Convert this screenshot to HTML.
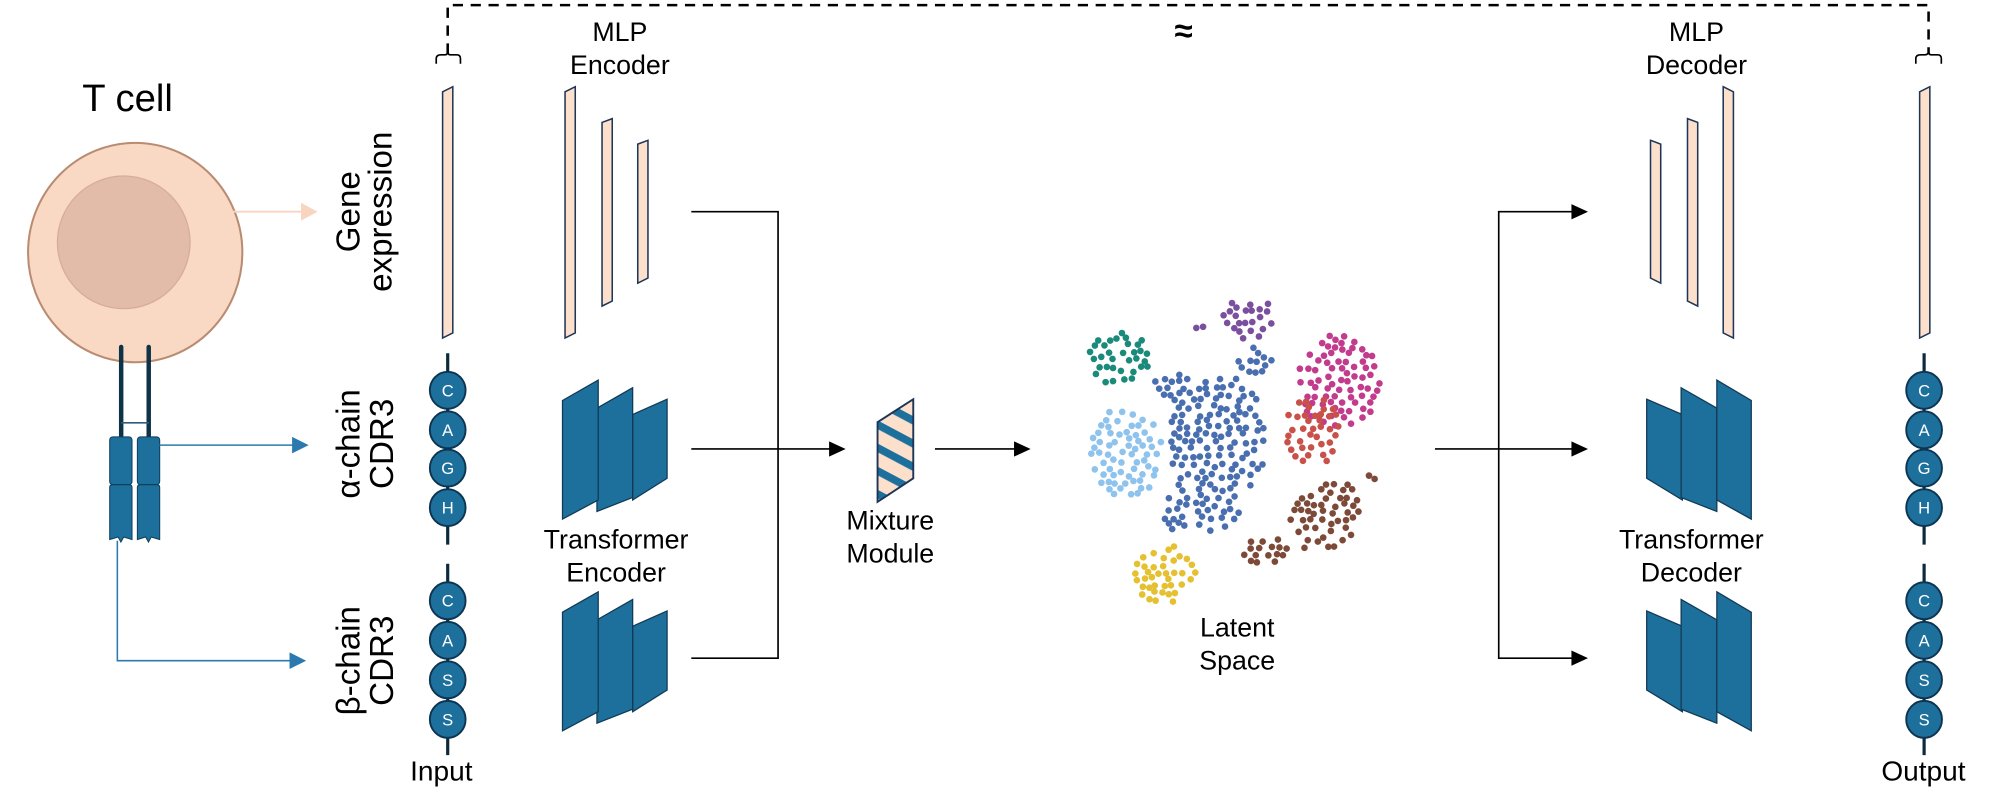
<!DOCTYPE html>
<html><head><meta charset="utf-8"><style>
html,body{margin:0;padding:0;background:#fff;}
svg{display:block;}
text{font-family:"Liberation Sans",Arial,sans-serif;fill:#000;}
.c text{fill:#fff;font-size:13px;text-anchor:middle;}
</style></head><body>
<svg id="s" width="2000" height="801" viewBox="0 0 1568 628" preserveAspectRatio="none" xmlns="http://www.w3.org/2000/svg">
<defs>
<marker id="ab" markerWidth="10" markerHeight="10" refX="10" refY="5" orient="auto" markerUnits="userSpaceOnUse"><path d="M0,0 L14,5 L0,10 z" fill="#000" transform="scale(0.72,1)"/></marker>
<pattern id="str" patternUnits="userSpaceOnUse" width="16" height="16" patternTransform="rotate(28)"><rect width="16" height="16" fill="#fde0cc"/><rect y="0" width="16" height="6" fill="#1d6f9c"/></pattern>
</defs>
<!-- dashed top -->
<path d="M351,42 V4 H1512 V42" fill="none" stroke="#000" stroke-width="2" stroke-dasharray="8,6"/>
<path d="M342,50 V46 Q342,43 346,43 H349 Q351,43 351,40 Q351,43 353,43 H358 Q361,43 361,46 V50" fill="none" stroke="#000" stroke-width="1.3"/>
<path d="M1502,50 V46 Q1502,43 1506,43 H1509 Q1512,43 1512,40 Q1512,43 1514,43 H1519 Q1522,43 1522,46 V50" fill="none" stroke="#000" stroke-width="1.3"/>
<text x="928" y="33" font-size="26" font-weight="bold" text-anchor="middle">≈</text>

<!-- T cell -->
<text x="100" y="87" font-size="30" text-anchor="middle">T cell</text>
<ellipse cx="106" cy="198" rx="84" ry="86" fill="#f9d9c4" stroke="#b98c72" stroke-width="1.6"/>
<ellipse cx="97" cy="190" rx="52" ry="52" fill="#e2bba9" stroke="#d6ad98" stroke-width="1"/>
<line x1="182" y1="166" x2="238" y2="166" stroke="#f9d5c0" stroke-width="1.5"/>
<path d="M236,159 L249,166 L236,173 z" fill="#f9d5c0"/>
<line x1="95" y1="272" x2="95" y2="343" stroke="#0f3346" stroke-width="3.5" stroke-linecap="round"/>
<line x1="116.6" y1="272" x2="116.6" y2="343" stroke="#0f3346" stroke-width="3.5" stroke-linecap="round"/>
<line x1="95" y1="331.5" x2="116.6" y2="331.5" stroke="#2a5f7c" stroke-width="1.2"/>
<g fill="#1d6f9c" stroke="#0f3f5c" stroke-width="0.8">
<rect x="86" y="342.5" width="17.5" height="37.5" rx="2.5"/>
<rect x="107.7" y="342.5" width="17.5" height="37.5" rx="2.5"/>
<path d="M86,382 Q86,380 88.5,380 H101 Q103.5,380 103.5,382 V423 L97,421 L94.8,425 L92.6,421 L86,423 z"/>
<path d="M107.7,382 Q107.7,380 110.2,380 H122.7 Q125.2,380 125.2,382 V423 L118.5,421 L116.4,425 L114.2,421 L107.7,423 z"/>
</g>
<line x1="125" y1="349" x2="232" y2="349" stroke="#2a7ab0" stroke-width="1.2"/>
<path d="M229,342.5 L242,349 L229,355.5 z" fill="#2a7ab0"/>
<path d="M92,424 V518 H230" fill="none" stroke="#2a7ab0" stroke-width="1.2"/>
<path d="M227,511.5 L240,518 L227,524.5 z" fill="#2a7ab0"/>

<!-- rotated labels -->
<g font-size="26" text-anchor="middle">
<text transform="translate(282,166) rotate(-90)">Gene</text>
<text transform="translate(307,166) rotate(-90)">expression</text>
<text transform="translate(282,348) rotate(-90)">α-chain</text>
<text transform="translate(308,348) rotate(-90)">CDR3</text>
<text transform="translate(282,518) rotate(-90)">β-chain</text>
<text transform="translate(308,518) rotate(-90)">CDR3</text>
</g>

<!-- bars -->
<g fill="#fde0cc" stroke="#1d3557" stroke-width="1.2">
<polygon points="347,72 355,68 355,261 347,265"/>
<polygon points="443,72 451,68 451,261 443,265"/>
<polygon points="472,96 480,93 480,236 472,240"/>
<polygon points="500,113 508,110 508,218 500,222"/>
<polygon points="1294,110 1302,113 1302,222 1294,218"/>
<polygon points="1323,93 1331,96 1331,240 1323,236"/>
<polygon points="1351,68 1359,72 1359,265 1351,261"/>
<polygon points="1505,72 1513,68 1513,261 1505,265"/>
</g>

<!-- chains -->
<g id="chains" stroke="#0d2a3c">
<line x1="351" y1="277" x2="351" y2="427" stroke-width="2.5"/>
<line x1="351" y1="442" x2="351" y2="592" stroke-width="2.5"/>
<line x1="1508.5" y1="277" x2="1508.5" y2="427" stroke-width="2.5"/>
<line x1="1508.5" y1="442" x2="1508.5" y2="592" stroke-width="2.5"/>
</g>
<g class="c" id="circ"></g>

<text x="346" y="612" font-size="22" text-anchor="middle">Input</text>
<text x="1508" y="612" font-size="22" text-anchor="middle">Output</text>

<g font-size="21" text-anchor="middle">
<text x="486" y="32">MLP</text><text x="486" y="58">Encoder</text>
<text x="1330" y="32">MLP</text><text x="1330" y="58">Decoder</text>
<text x="483" y="430">Transformer</text><text x="483" y="456">Encoder</text>
<text x="1326" y="430">Transformer</text><text x="1326" y="456">Decoder</text>
<text x="698" y="415">Mixture</text><text x="698" y="441">Module</text>
<text x="970" y="499">Latent</text><text x="970" y="525">Space</text>
</g>

<!-- transformer panels -->
<g fill="#1d6f9c" stroke="#123a55" stroke-width="1" id="tp">
<polygon points="496,325 523,313 523,375 496,392"/>
<polygon points="468,320 496,304 496,390 468,401"/>
<polygon points="441,314 469,298 469,392 441,407"/>
<g transform="translate(0,166)">
<polygon points="496,325 523,313 523,375 496,392"/>
<polygon points="468,320 496,304 496,390 468,401"/>
<polygon points="441,314 469,298 469,392 441,407"/>
</g>
<polygon points="1291,313 1319,325 1319,392 1291,375"/>
<polygon points="1318,304 1346,320 1346,401 1318,390"/>
<polygon points="1346,298 1373,314 1373,407 1346,392"/>
<g transform="translate(0,166)">
<polygon points="1291,313 1319,325 1319,392 1291,375"/>
<polygon points="1318,304 1346,320 1346,401 1318,390"/>
<polygon points="1346,298 1373,314 1373,407 1346,392"/>
</g>
</g>

<!-- connectors -->
<g stroke="#000" stroke-width="1.3" fill="none">
<path d="M542,166 H610 V516 H542"/>
<line x1="542" y1="352" x2="654" y2="352"/>
<line x1="733" y1="352" x2="798" y2="352"/>
<line x1="1125" y1="352" x2="1236" y2="352"/>
<path d="M1236,166 H1175 V516 H1236"/>
</g>
<g fill="#000">
<path d="M650,346 L663,352 L650,358 z"/>
<path d="M795,346 L808,352 L795,358 z"/>
<path d="M1232,160 L1245,166 L1232,172 z"/>
<path d="M1232,346 L1245,352 L1232,358 z"/>
<path d="M1232,510 L1245,516 L1232,522 z"/>
</g>

<!-- mixture module -->
<polygon points="688,331 716,313 716,375 688,393.5" fill="url(#str)" stroke="#1d3557" stroke-width="1.5"/>

<g id="dots"></g>
</svg>
<script>
(function(){
var NS="http://www.w3.org/2000/svg";
var circ=document.getElementById("circ");
function bead(x,y,l){
 var c=document.createElementNS(NS,"ellipse");c.setAttribute("cx",x);c.setAttribute("cy",y);c.setAttribute("rx",14);c.setAttribute("ry",14.5);
 c.setAttribute("fill","#1d6f9c");c.setAttribute("stroke","#0d3552");c.setAttribute("stroke-width","1.5");circ.appendChild(c);
 var t=document.createElementNS(NS,"text");t.setAttribute("x",x);t.setAttribute("y",y+4.7);t.textContent=l;circ.appendChild(t);
}
[351,1508.5].forEach(function(x){
 [[306,"C"],[337,"A"],[367,"G"],[398,"H"],[471,"C"],[502,"A"],[533,"S"],[564,"S"]].forEach(function(p){bead(x,p[0],p[1]);});
});
var seed=12345;function rnd(){seed=(seed*16807)%2147483647;return (seed-1)/2147483646;}
var g=document.getElementById("dots");
function cluster(col,shapes,sp){
 sp=sp||6.2;
 var bx0=1e9,bx1=-1e9,by0=1e9,by1=-1e9;
 shapes.forEach(function(s){bx0=Math.min(bx0,s[0]-s[2]);bx1=Math.max(bx1,s[0]+s[2]);by0=Math.min(by0,s[1]-s[3]);by1=Math.max(by1,s[1]+s[3]);});
 var pts=[];
 for(var y=by0;y<=by1;y+=sp*0.87){for(var x=bx0;x<=bx1;x+=sp){
  var px=x+(rnd()-0.5)*sp*0.7+((Math.round((y-by0)/(sp*0.87))%2)?sp/2:0), py=y+(rnd()-0.5)*sp*0.6;
  var ok=shapes.some(function(s){var a=s[4]||0,dx=px-s[0],dy=py-s[1],c=Math.cos(a),si=Math.sin(a);var u=dx*c+dy*si,v=-dx*si+dy*c;return (u*u)/(s[2]*s[2])+(v*v)/(s[3]*s[3])<=1;});
  if(ok && rnd()>0.12){
   var good=pts.every(function(p){return (p[0]-px)*(p[0]-px)+(p[1]-py)*(p[1]-py)>20;});
   if(good)pts.push([px,py]);
  }
 }}
 pts.forEach(function(p){var c=document.createElementNS(NS,"circle");c.setAttribute("cx",p[0].toFixed(1));c.setAttribute("cy",p[1].toFixed(1));c.setAttribute("r","2.6");c.setAttribute("fill",col);g.appendChild(c);});
}
cluster("#1a8a7a",[[878,281,25,21]]);
cluster("#7a4f9e",[[979,249,21,17]]);
cluster("#7a4f9e",[[940,256,4,4]],5);
cluster("#4a6fb0",[[955,345,38,52],[945,395,30,22],[985,283,14,12],[922,303,18,11],[925,410,15,8]]);
cluster("#8ec3ee",[[882,355,29,37]]);
cluster("#c23b8c",[[1050,300,33,38]]);
cluster("#c9514a",[[1029,338,21,29]]);
cluster("#7d4a3a",[[1040,405,32,24,-0.55],[990,432,20,12],[1078,374,5,5]]);
cluster("#e5c030",[[913,450,25,23]]);
})();
</script>
</body></html>
